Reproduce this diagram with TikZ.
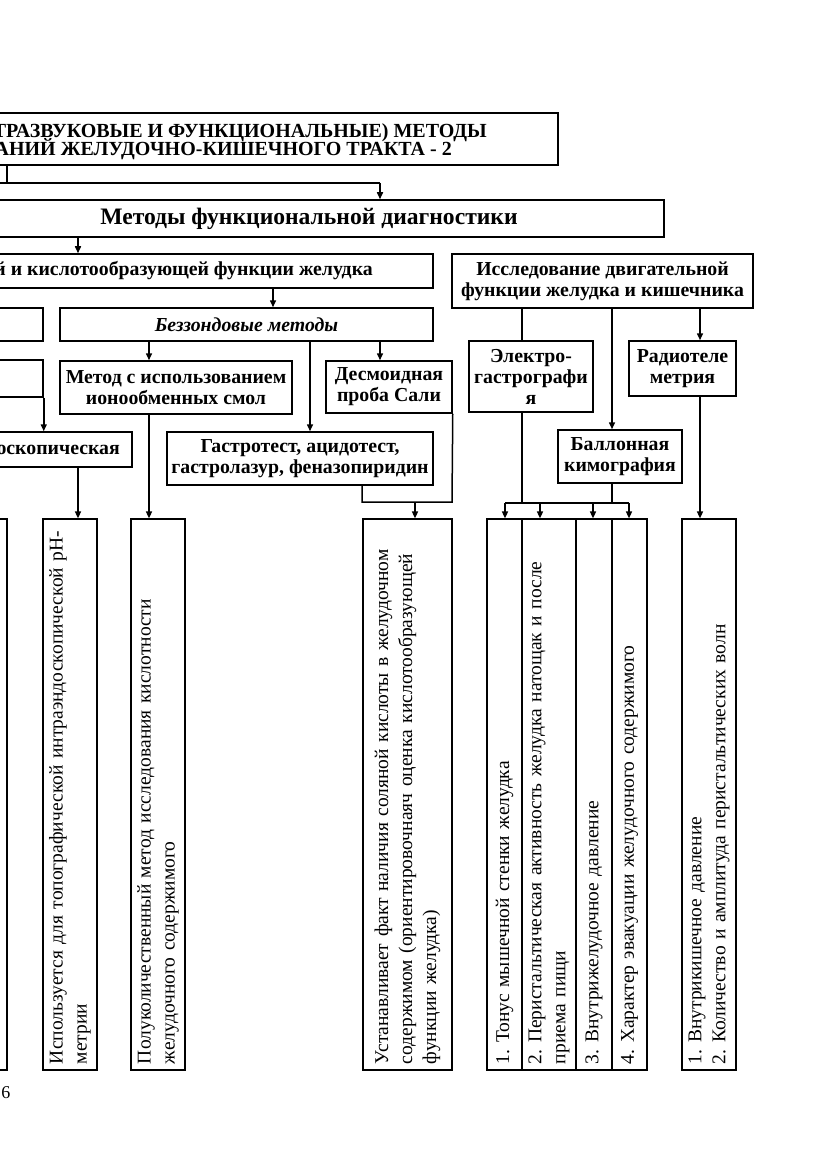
\documentclass[tikz,border=0pt]{standalone}
\usepackage{fontspec}
\setmainfont{Liberation Serif}
\usetikzlibrary{arrows.meta}
\newcommand\myhf{\bfseries\fontsize{19.8}{21}\selectfont}
\newcommand\myttl{\bfseries\fontsize{20}{21}\selectfont}
\newcommand\mybig{\bfseries\fontsize{23.6}{25}\selectfont}
\newcommand\mytf{\fontsize{19.5}{24}\selectfont}
\frenchspacing
\begin{document}
\frenchspacing
\begin{tikzpicture}[x=1pt,y=-1pt,
  box/.style={draw, line width=1.5pt, inner sep=0pt, align=center, font=\myhf},
  htext/.style={inner sep=0pt, font=\myhf},
  vbox/.style={draw, line width=1.2pt, rotate=90, minimum width=551pt, inner xsep=6pt, inner ysep=0pt, align=left, text width=539pt, font=\mytf},
  ln/.style={line width=1.5pt},
  arr/.style={ln, -{Triangle[length=7pt,width=6pt]}}]
\useasboundingbox (0,0) rectangle (831,1174);
\fill[white] (0,0) rectangle (831,1174);
\clip (0,0) rectangle (831,1174);

% header boxes
\node[box, minimum width=578pt, minimum height=52pt] (title) at (269,139) {};
\node[htext, font=\myttl, anchor=base east, text depth=1pt] (tl1) at (487,137.5) {ТРАЗВУКОВЫЕ И ФУНКЦИОНАЛЬНЫЕ) МЕТОДЫ};
\node[htext, font=\myttl, anchor=base east, text height=14pt] (tl2) at (452,155.8) {АНИЙ ЖЕЛУДОЧНО-КИШЕЧНОГО ТРАКТА - 2};

\node[box, minimum width=684pt, minimum height=37pt] (metody) at (322,218.5) {};
\node[htext, font=\mybig] (mt) at (309,218.5) {Методы функциональной диагностики};

\node[box, minimum width=453pt, minimum height=34pt] (secr) at (206.5,271) {};
\node[htext, anchor=east] (st) at (373,271) {й и кислотообразующей функции желудка};

\node[box, minimum width=63pt, minimum height=33pt] (lb1) at (11.5,324.5) {};
\node[box, minimum width=373pt, minimum height=33pt] (bezz) at (246.5,324.5) {\itshape Беззондовые методы};
\node[box, minimum width=63pt, minimum height=37pt] (lb2) at (11.5,378.5) {};
\node[box, minimum width=232pt, minimum height=53pt] (metod) at (176,387.5) {Метод с использованием\\ионообменных смол};
\node[box, minimum width=126pt, minimum height=52pt] (desm) at (389,387) {Десмоидная\\проба Сали};
\node[box, minimum width=152pt, minimum height=35pt] (endo) at (56,449.5) {};
\node[htext, anchor=east] (et) at (120,449.5) {оскопическая};
\node[box, minimum width=266pt, minimum height=53pt] (gastro) at (300,458.5) {Гастротест, ацидотест,\\гастролазур, феназопиридин};

\node[box, minimum width=301pt, minimum height=54pt] (issl) at (602.5,281) {Исследование двигательной\\функции желудка и кишечника};
\node[box, minimum width=124pt, minimum height=71pt] (elek) at (531,376.5) {Электро-\\гастрографи\\я};
\node[box, minimum width=107pt, minimum height=55pt] (radio) at (682.5,368.5) {Радиотеле\\метрия};
\node[box, minimum width=124pt, minimum height=53pt] (ball) at (620,456.5) {Баллонная\\кимография};

% bottom boxes
\node[vbox, minimum height=27pt] (lc) at (-6.5,794.5) {};
\node[vbox, minimum height=54pt] (isp) at (70,794.5) {Используется для топографической интраэндоскопической pH-\\метрии};
\node[vbox, minimum height=54pt] (polu) at (158,794.5) {Полуколичественный метод исследования кислотности\\желудочного содержимого};
\node[vbox, minimum height=89pt] (ust) at (407.5,794.5) {Устанавливает факт наличия соляной кислоты в желудочном\\содержимом (ориентировочнаяч оценка кислотообразующей\\функции желудка)};
\node[vbox, minimum height=35pt] (g1) at (504.5,794.5) {1. Тонус мышечной стенки желудка};
\node[vbox, minimum height=54pt] (g2) at (549,794.5) {2. Перистальтическая активность желудка натощак и после\\приема пищи};
\node[vbox, minimum height=36pt] (g3) at (594,794.5) {3. Внутрижелудочное давление};
\node[vbox, minimum height=35pt] (g4) at (629.5,794.5) {4. Характер эвакуации желудочного содержимого};
\node[vbox, minimum height=54pt] (rb) at (709,794.5) {1. Внутрикишечное давление\\2. Количество и амплитуда перистальтических волн};

\node[inner sep=0pt, font=\fontsize{18}{20}\selectfont] (pg) at (6,1093) {6};

% junction coordinates
\coordinate (j0) at (-5,183);
\coordinate (j1) at (380,183);
\coordinate (j2) at (452,502);
\coordinate (j4) at (505,503);
\coordinate (j5) at (629,503);

% connectors
\draw[ln] ([xshift=-262pt]title.south) -- ([xshift=-262pt]title.south |- j1);
\draw[ln] (j0) -- (j1);
\draw[arr] (j1) -- (j1 |- metody.north);
\draw[arr] ([xshift=-244pt]metody.south) -- ([xshift=-244pt]metody.south |- secr.north);
\draw[arr] ([xshift=66.5pt]secr.south) -- ([xshift=66.5pt]secr.south |- bezz.north);
\draw[arr] ([xshift=-97.5pt]bezz.south) -- ([xshift=-97.5pt]bezz.south |- metod.north);
\draw[arr] ([xshift=63.5pt]bezz.south) -- ([xshift=63.5pt]bezz.south |- gastro.north);
\draw[arr] ([xshift=133.5pt]bezz.south) -- ([xshift=133.5pt]bezz.south |- desm.north);
\draw[arr] (lb2.south east) -- (lb2.south east |- endo.north);
\draw[arr] ([xshift=22pt]endo.south) -- ([xshift=22pt]endo.south |- isp.east);
\draw[arr] ([xshift=-27pt]metod.south) -- ([xshift=-27pt]metod.south |- polu.east);
\draw[ln] (desm.south east) -- (j2) -| ([xshift=62pt]gastro.south);
\draw[arr] ([xshift=7.5pt]ust.east |- j2) -- ([xshift=7.5pt]ust.east);

\draw[ln] ([xshift=-80.5pt]issl.south) -- ([xshift=-80.5pt]issl.south |- elek.north);
\draw[arr] ([xshift=9.5pt]issl.south) -- ([xshift=9.5pt]issl.south |- ball.north);
\draw[arr] ([xshift=97.5pt]issl.south) -- ([xshift=97.5pt]issl.south |- radio.north);
\draw[ln] ([xshift=-9pt]elek.south) -- ([xshift=-9pt]elek.south |- j4);
\draw[ln] ([xshift=-8pt]ball.south) -- ([xshift=-8pt]ball.south |- j4);
\draw[ln] (j4) -- (j5);
\draw[arr] (j4) -- (j4 |- g1.east);
\draw[arr] ([xshift=-9pt]g2.east |- j4) -- ([xshift=-9pt]g2.east);
\draw[arr] ([xshift=-1pt]g3.east |- j4) -- ([xshift=-1pt]g3.east);
\draw[arr] (j5) -- (j5 |- g4.east);
\draw[arr] ([xshift=17.5pt]radio.south) -- ([xshift=17.5pt]radio.south |- rb.east);
\end{tikzpicture}
\end{document}
